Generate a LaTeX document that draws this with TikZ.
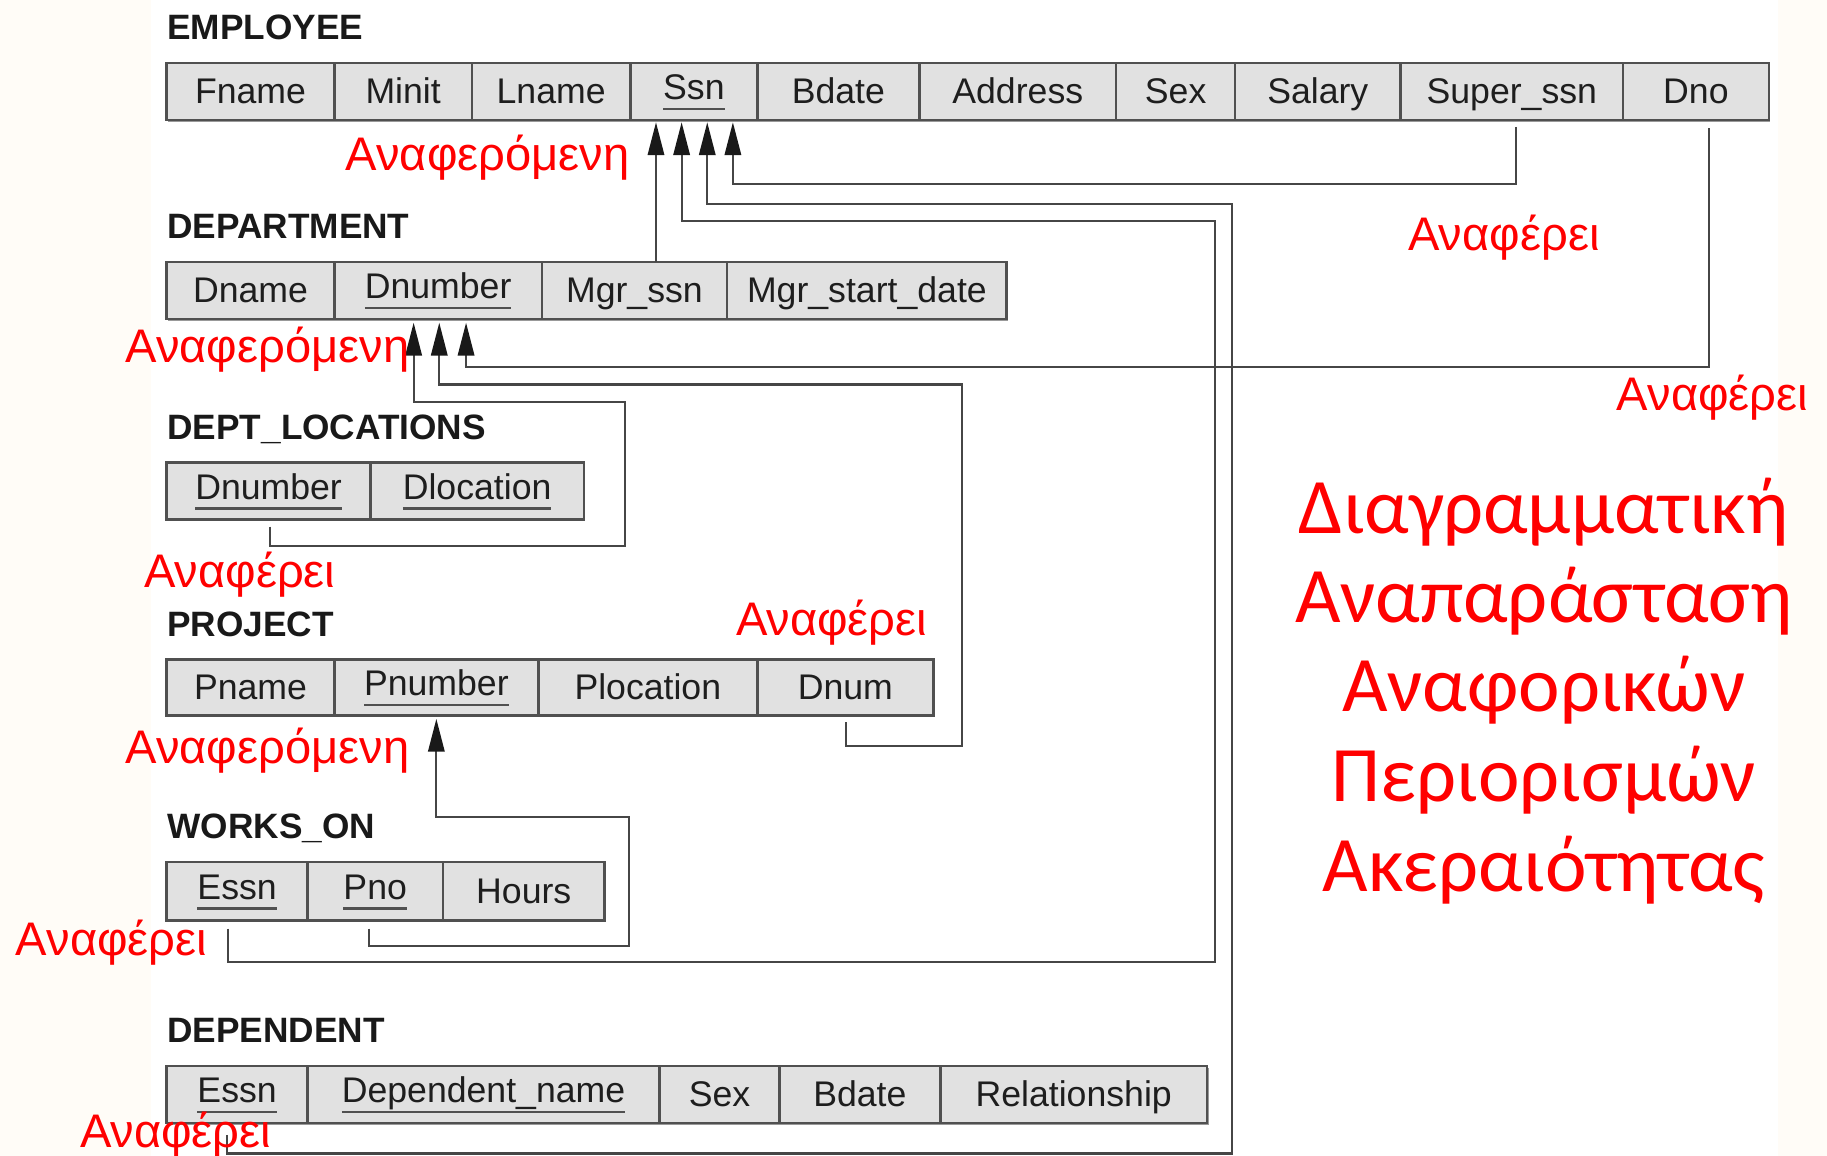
\documentclass[tikz,border=0pt]{standalone}
\usepackage{fontspec}
\setmainfont{Liberation Sans}
\newfontfamily\titlefont{Carlito}
\usetikzlibrary{arrows.meta,calc,shadows}

\definecolor{paper}{RGB}{255,252,247}
\definecolor{cellfill}{RGB}{225,225,225}
\definecolor{cellline}{RGB}{80,80,80}
\definecolor{wire}{RGB}{70,70,70}
\definecolor{inkdark}{RGB}{30,30,30}
\definecolor{notered}{RGB}{255,0,0}

% primary-key attribute: slightly raised and underlined
\newcommand\keyattr[1]{\setbox0=\hbox{#1}\raisebox{0.9pt}{\rlap{\color{cellline}\raisebox{-2.56pt}{\rule{\wd0}{0.57pt}}}\box0}}

% one attribute cell: name, x-left, x-right, y-top, y-bottom, text
\newcommand\relcell[6]{%
  \node[cell, minimum width={(#3-#2)*0.01cm}, minimum height={(#5-#4)*0.01cm}]
    (#1) at ({(#2+#3)/2},{(#4+#5)/2}) {#6};}

\tikzset{
  cell/.style={draw=cellline, line width=0.6pt, fill=cellfill, inner sep=0pt, outer sep=0pt,
    text=inkdark, font=\fontsize{8.7}{10}\selectfont, text height=5.7pt, text depth=0pt,
    drop shadow={shadow xshift=0.35pt, shadow yshift=-0.45pt, opacity=0.4, fill=black}},
  tabname/.style={anchor=base west, inner sep=0pt, font=\bfseries\fontsize{8.6}{10}\selectfont, text=black!90},
  fk/.style={draw=wire, line width=0.5pt},
  fkarrow/.style={fk, -{Triangle[length=8pt,width=4pt,color=black!90]}},
  note/.style={anchor=base west, inner sep=0pt, text=notered, font=\fontsize{11.5}{13}\selectfont},
  headline/.style={anchor=base, inner sep=0pt, text=notered, font=\titlefont\fontsize{19.2}{23}\selectfont},
}

\begin{document}
\begin{tikzpicture}[x=0.01cm,y=-0.01cm]
  % page
  \fill[paper] (0,0) rectangle (1568,992);
  \fill[white] (130,0) rectangle (1526,992);
  \useasboundingbox (0,0) rectangle (1568,992);

  % relation names
  \node[tabname] (emp-name)  at (143,34)  {EMPLOYEE};
  \node[tabname] (dept-name) at (143,205) {DEPARTMENT};
  \node[tabname] (dl-name)   at (143,377) {DEPT\_LOCATIONS};
  \node[tabname] (proj-name) at (143,546) {PROJECT};
  \node[tabname] (wo-name)   at (143,720) {WORKS\_ON};
  \node[tabname] (dep-name)  at (143,895) {DEPENDENT};

  % EMPLOYEE
  \relcell{emp-fname}{143}{287}{54}{103}{Fname}
  \relcell{emp-minit}{287}{405}{54}{103}{Minit}
  \relcell{emp-lname}{405}{541}{54}{103}{Lname}
  \relcell{emp-ssn}{541}{650}{54}{103}{\keyattr{Ssn}}
  \relcell{emp-bdate}{650}{789}{54}{103}{Bdate}
  \relcell{emp-addr}{789}{958}{54}{103}{Address}
  \relcell{emp-sex}{958}{1060}{54}{103}{Sex}
  \relcell{emp-salary}{1060}{1202}{54}{103}{Salary}
  \relcell{emp-super}{1202}{1393}{54}{103}{Super\_ssn}
  \relcell{emp-dno}{1393}{1518}{54}{103}{Dno}

  % DEPARTMENT
  \relcell{dept-dname}{143}{287}{225}{274}{Dname}
  \relcell{dept-dnum}{287}{465}{225}{274}{\keyattr{Dnumber}}
  \relcell{dept-mgr}{465}{624}{225}{274}{Mgr\_ssn}
  \relcell{dept-mgrdate}{624}{864}{225}{274}{Mgr\_start\_date}

  % DEPT_LOCATIONS
  \relcell{dl-dnum}{143}{318}{397}{446}{\keyattr{Dnumber}}
  \relcell{dl-dloc}{318}{501}{397}{446}{\keyattr{Dlocation}}

  % PROJECT
  \relcell{proj-pname}{143}{287}{566}{614}{Pname}
  \relcell{proj-pnum}{287}{462}{566}{614}{\keyattr{Pnumber}}
  \relcell{proj-ploc}{462}{650}{566}{614}{Plocation}
  \relcell{proj-dnum}{650}{801}{566}{614}{Dnum}

  % WORKS_ON
  \relcell{wo-essn}{143}{264}{740}{790}{\keyattr{Essn}}
  \relcell{wo-pno}{264}{380}{740}{790}{\keyattr{Pno}}
  \relcell{wo-hours}{380}{519}{740}{790}{Hours}

  % DEPENDENT
  \relcell{dep-essn}{143}{264}{915}{964}{\keyattr{Essn}}
  \relcell{dep-dname}{264}{566}{915}{964}{\keyattr{Dependent\_name}}
  \relcell{dep-sex}{566}{669}{915}{964}{Sex}
  \relcell{dep-bdate}{669}{807}{915}{964}{Bdate}
  \relcell{dep-rel}{807}{1036}{915}{964}{Relationship}

  % arrow tips on the referenced keys
  \coordinate (ssnA) at ($(emp-ssn.south west)+(22,2)$);
  \coordinate (ssnB) at ($(emp-ssn.south west)+(44,2)$);
  \coordinate (ssnC) at ($(emp-ssn.south west)+(66,2)$);
  \coordinate (ssnD) at ($(emp-ssn.south west)+(88,2)$);
  \coordinate (dnA1) at ($(dept-dnum.south west)+(68,3)$);
  \coordinate (dnA2) at ($(dept-dnum.south west)+(90,3)$);
  \coordinate (dnA3) at ($(dept-dnum.south west)+(113,3)$);
  \coordinate (pnTip) at ($(proj-pnum.south)+(0,3)$);

  % start points below the foreign keys
  \coordinate (woEssnOut)  at ($(wo-essn.south)+(-7.5,7)$);
  \coordinate (depEssnOut) at ($(dep-essn.south)+(-8.5,10)$);
  \coordinate (superOut)   at ($(emp-super.south)+(3.5,6)$);
  \coordinate (dnoOut)     at ($(emp-dno.south)+(11.5,7)$);
  \coordinate (pdnumOut)   at ($(proj-dnum.south)+(0.5,6)$);
  \coordinate (dlOut)      at ($(dl-dnum.south)+(1.5,6)$);
  \coordinate (pnoOut)     at ($(wo-pno.south)+(-5,7)$);

  % referential integrity connectors
  \draw[fkarrow] (ssnA |- dept-mgr.north) -- (ssnA);
  \draw[fkarrow] (woEssnOut) |- (1043,826) -- (1043,190) -| (ssnB);
  \draw[fkarrow] (depEssnOut) |- (1057,990) -- (1057,175) -| (ssnC);
  \draw[fkarrow] (superOut) -- ++(0,49) -| (ssnD);
  \draw[fkarrow] (dnoOut) -- ++(0,205) -| (dnA3);
  \draw[fkarrow] (pdnumOut) |- (826,640) -- (826,330) -| (dnA2);
  \draw[fkarrow] (dlOut) |- (536,469) -- (536,345) -| (dnA1);
  \draw[fkarrow] (pnoOut) |- (540,812) -- (540,701) -| (pnTip);

  % annotations
  \node[note] (n-refd1) at (296,146) {Αναφερόμενη};
  \node[note] (n-refs1) at (1208,215) {Αναφέρει};
  \node[note] (n-refd2) at (107,311) {Αναφερόμενη};
  \node[note] (n-refs2) at (1387,352) {Αναφέρει};
  \node[note] (n-refs3) at (123,504) {Αναφέρει};
  \node[note] (n-refs4) at (631,545) {Αναφέρει};
  \node[note] (n-refd3) at (107,655) {Αναφερόμενη};
  \node[note] (n-refs5) at (13,820) {Αναφέρει};
  \node[note] (n-refs6) at (68,985) {Αναφέρει};

  % heading
  \node[headline] (title1) at (1325,457.5) {Διαγραμματική};
  \node[headline] (title2) at (1325,534) {Αναπαράσταση};
  \node[headline] (title3) at (1325,611) {Αναφορικών};
  \node[headline] (title4) at (1325,688) {Περιορισμών};
  \node[headline] (title5) at (1325,765) {Ακεραιότητας};
\end{tikzpicture}
\end{document}
